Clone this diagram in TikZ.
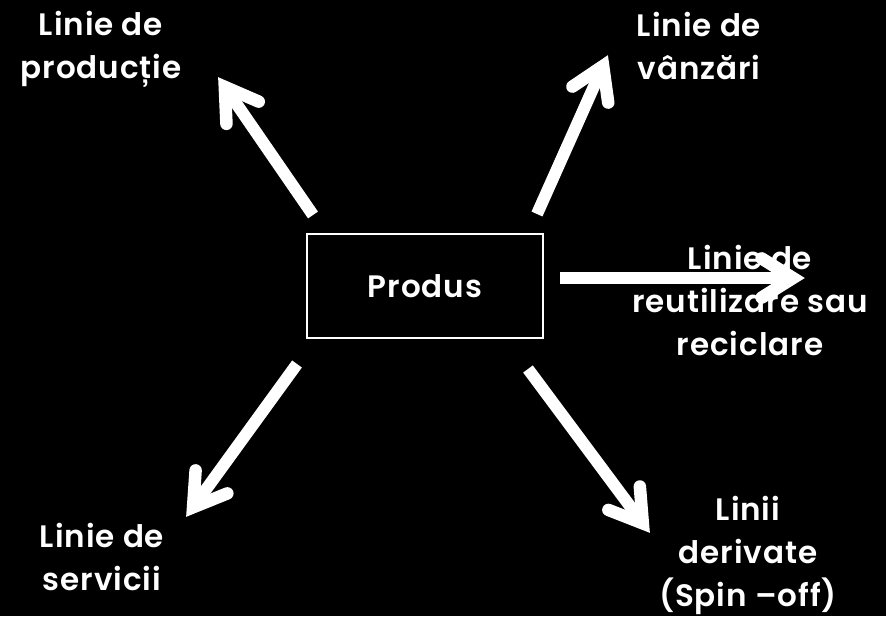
\documentclass[tikz,border=0pt]{standalone}
\usepackage{fontspec}
\setmainfont{Poppins}[BoldFont=Poppins SemiBold,BoldFeatures={LetterSpace=3}]
\usetikzlibrary{calc}
\begin{document}
\begin{tikzpicture}[x=1pt,y=-1pt,
  lbl/.style={text=white,font=\bfseries\fontsize{31}{43}\selectfont,align=center,inner sep=0pt},
  shaft/.style={draw=white,line width=12pt,line cap=butt},
  head/.style={draw=white,line width=12.5pt,line cap=round,line join=miter}]
\fill[black] (0,0) rectangle (886,616);
\useasboundingbox (0,0) rectangle (886,616);
\newcommand\wharrow[2]{%
  \coordinate (#2v) at ($(#2)!12pt!(#1)$);
  \draw[shaft] (#1) -- ($(#2v)!2pt!(#1)$);
  \draw[head] ($(#2v)!37pt!32:(#1)$) -- (#2v) -- ($(#2v)!37pt!-32:(#1)$);
}
\node[draw=white,line width=2pt,minimum width=236pt,minimum height=104pt,
      text=white,font=\bfseries\fontsize{31}{43}\selectfont,inner sep=0pt] (prod) at (425,286) {Produs};

\node[lbl] (l1) at (101,49) {Linie de\\producție};
\node[lbl] (l2) at (699,46) {Linie de\\vânzări};
\node[lbl] (l3) at (750,300) {Linie de\\reutilizare sau\\reciclare};
\node[lbl] (l4) at (748,555) {Linii\\derivate\\(Spin –off)};
\node[lbl] (l5) at (102,557) {Linie de\\servicii};

\coordinate (a1s) at (313,215); \coordinate (a1) at (218,77);
\coordinate (a2s) at (537,214); \coordinate (a2) at (608,55);
\coordinate (a3s) at (560,278); \coordinate (a3) at (805,278);
\coordinate (a4s) at (528,369); \coordinate (a4) at (650,533);
\coordinate (a5s) at (297,364); \coordinate (a5) at (186,517);

\wharrow{a1s}{a1}
\wharrow{a2s}{a2}
\wharrow{a3s}{a3}
\wharrow{a4s}{a4}
\wharrow{a5s}{a5}
\end{tikzpicture}
\end{document}
